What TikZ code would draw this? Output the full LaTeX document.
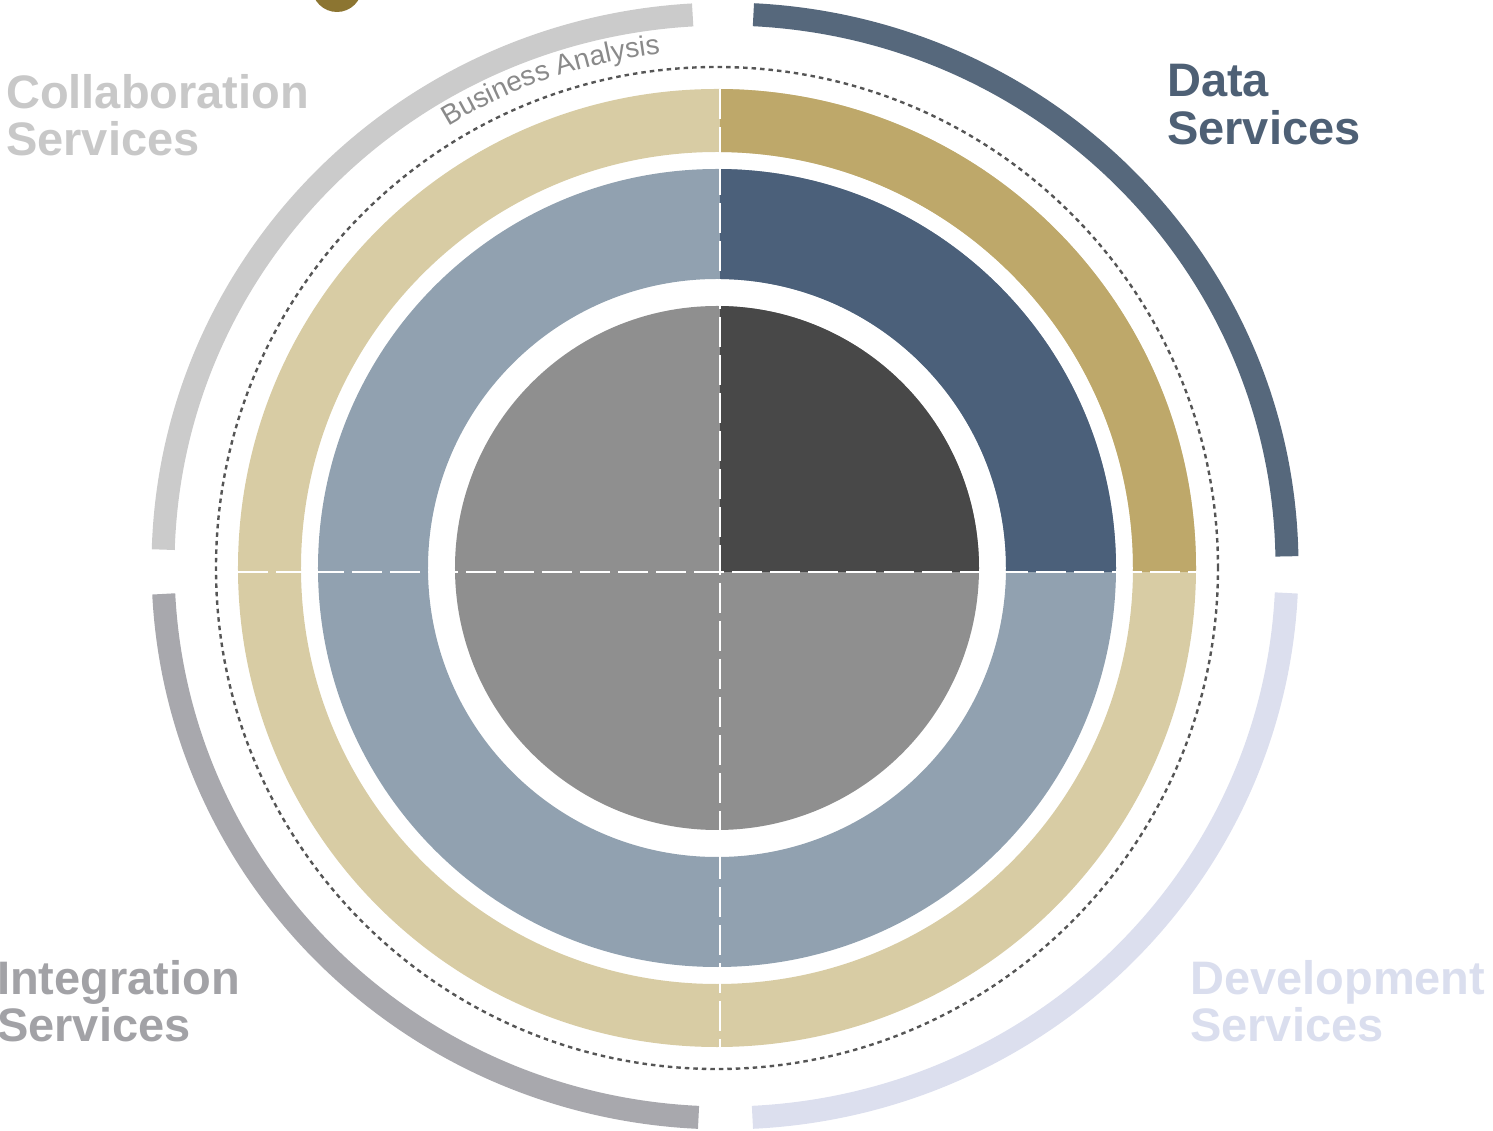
\documentclass[tikz,border=0pt]{standalone}
\usepackage{fontspec}
\setmainfont{Liberation Sans}
\usetikzlibrary{decorations.text}
\definecolor{goldL}{HTML}{D8CCA4}
\definecolor{goldD}{HTML}{BEA86A}
\definecolor{blueL}{HTML}{91A1B0}
\definecolor{blueD}{HTML}{4B607A}
\definecolor{grayL}{HTML}{8F8F8F}
\definecolor{grayD}{HTML}{484848}
\definecolor{arcTL}{HTML}{CBCBCB}
\definecolor{arcTR}{HTML}{56687C}
\definecolor{arcBL}{HTML}{A8A8AD}
\definecolor{arcBR}{HTML}{DCDFEE}
\definecolor{txtTL}{HTML}{C8C8C8}
\definecolor{txtTR}{HTML}{4E6075}
\definecolor{txtBL}{HTML}{A2A2A6}
\definecolor{txtBR}{HTML}{DADEEE}
\definecolor{dotcol}{HTML}{555555}
\definecolor{bagray}{HTML}{8A8A8A}
\definecolor{logogold}{HTML}{8C7531}
\newcommand\bafont{\fontsize{28}{28}\selectfont}
\tikzset{
  lbl/.style={anchor=base west, inner sep=0pt, font=\fontsize{47}{47}\selectfont\bfseries},
  outerarc/.style={line width=23pt},
  splitline/.style={white, line width=2.5pt, dash pattern=on 30pt off 8pt},
}
\begin{document}
\begin{tikzpicture}[x=1pt,y=1pt]
\useasboundingbox (-717,-563) rectangle (776,568);
\clip (-717,-563) rectangle (776,568);
% logo fragment
\fill[logogold] (-380,581) circle (25);
% rings (light)
\fill[goldL, even odd rule] (0,0) circle (479) (0,0) circle (416);
\fill[blueL, even odd rule] (0,0) circle (399) (0,0) circle (289);
\fill[grayL] (0,0) circle (262);
% dark quadrant
\begin{scope}
\clip (3,-4) rectangle (700,700);
\fill[goldD, even odd rule] (0,0) circle (479) (0,0) circle (416);
\fill[blueD, even odd rule] (0,0) circle (399) (0,0) circle (289);
\fill[grayD] (0,0) circle (262);
\end{scope}
% split lines
\coordinate (vt) at (3,479);
\coordinate (vb) at (3,-479);
\coordinate (hl) at (-479,-4);
\coordinate (hr) at (479,-4);
\draw[splitline] (vt) -- (vb);
\draw[splitline] (hl) -- (hr);
% dotted circle
\draw[dotcol, line width=2.4pt, dash pattern=on 4.5pt off 4pt] (0,0) circle (501);
% outer arcs
\draw[arcTL, outerarc] (8,2) ++(93.3:562 and 552) arc[start angle=93.3, end angle=178.3, x radius=562, y radius=552];
\draw[arcTR, outerarc] (8,2) ++(1.0:562 and 552) arc[start angle=1.0, end angle=87.1, x radius=562, y radius=552];
\draw[arcBL, outerarc] (8,2) ++(182.9:562 and 552) arc[start angle=182.9, end angle=267.3, x radius=562, y radius=552];
\draw[arcBR, outerarc] (8,2) ++(272.8:562 and 552) arc[start angle=272.8, end angle=357.2, x radius=562, y radius=552];
% business analysis
\path[decorate, decoration={text along path, text={|\bafont|Business Analysis}, text align=left, text color=bagray}]
  (121.3:517) arc[start angle=121.3, end angle=90, radius=517];
% labels
\node[lbl, text=txtTL] (collab1) at (-711,459) {Collaboration};
\node[lbl, text=txtTL] (collab2) at (-711,412) {Services};
\node[lbl, text=txtTR] (data1) at (450,471) {Data};
\node[lbl, text=txtTR] (data2) at (450,423) {Services};
\node[lbl, text=txtBL] (integ1) at (-720,-426) {Integration};
\node[lbl, text=txtBL] (integ2) at (-720,-473) {Services};
\node[lbl, text=txtBR] (devel1) at (473,-426) {Development};
\node[lbl, text=txtBR] (devel2) at (473,-473) {Services};
\end{tikzpicture}
\end{document}
